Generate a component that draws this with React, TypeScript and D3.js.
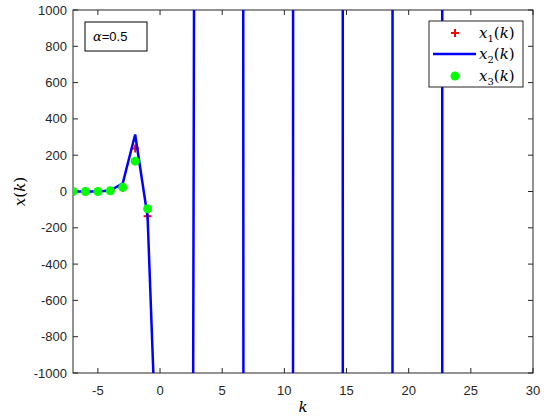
import React from "react";
import * as d3 from "d3";

// data
const kValues = [-7, -6, -5, -4, -3, -2, -1, 0, 1, 2, 3, 4, 5, 6, 7, 8, 9, 10, 11, 12, 13, 14, 15, 16, 17, 18, 19, 20, 21, 22, 23];
const x2Values = [0, 0, 0, 5, 45, 314, -140, -2000, -8000, -21000, 9000, 30000, 60000, 98000, -42000, -120000, -200000, -280000, 120000, 300000, 450000, 560000, -240000, -550000, -750000, -840000, 360000, 800000, 1000000, 1120000, -480000];
const kMarkers = [-7, -6, -5, -4, -3, -2, -1];
const x1Values = [0, 0, 0, 3, 20, 237, -136];
const x3Values = [0, 0, 0, 4, 23, 167, -95];
const xTicks = [-5, 0, 5, 10, 15, 20, 25, 30];
const yTicks = [-1000, -800, -600, -400, -200, 0, 200, 400, 600, 800, 1000];

const W = 550, H = 420;
const M = { left: 73, right: 17, top: 10, bottom: 47 };
const axisColor = "#262626";

export default function App() {
  const x = d3.scaleLinear().domain([-7, 30]).range([M.left, W - M.right]);
  const y = d3.scaleLinear().domain([-1000, 1000]).range([H - M.bottom, M.top]);
  const line = d3.line<number>().x((_, i) => x(kValues[i])).y((d) => y(d));
  const x0 = M.left, x1 = W - M.right, y0 = M.top, y1 = H - M.bottom;
  const tl = 5;
  const lgX = 429, lgY = 21, lgW = 94, lgH = 66;
  const rows = [33, 54, 76];
  const serif = "'DejaVu Serif', 'Liberation Serif', serif";
  const sans = "'Liberation Sans', Arial, sans-serif";
  const legendLabel = (sub: string, yy: number) => (
    <text x={479} y={yy + 5} fontFamily={serif} fontStyle="italic" fontSize={15} fill="#000">
      x<tspan fontSize={10} dy={4} fontStyle="normal">{sub}</tspan>
      <tspan dy={-4} fontStyle="normal">(</tspan>k<tspan fontStyle="normal">)</tspan>
    </text>
  );
  return (
    <svg width={W} height={H} style={{ position: "absolute", left: 0, top: 0, background: "#fff" }}>
      <defs>
        <clipPath id="plotclip">
          <rect x={x0} y={y0} width={x1 - x0} height={y1 - y0} />
        </clipPath>
      </defs>
      <rect x={0} y={0} width={W} height={H} fill="#fff" />
      {/* axes box */}
      <rect x={x0} y={y0} width={x1 - x0} height={y1 - y0} fill="none" stroke={axisColor} strokeWidth={1} />
      {xTicks.map((t) => (
        <g key={"xt" + t}>
          <line x1={x(t)} x2={x(t)} y1={y1} y2={y1 - tl} stroke={axisColor} />
          <line x1={x(t)} x2={x(t)} y1={y0} y2={y0 + tl} stroke={axisColor} />
          <text x={x(t)} y={y1 + 22} textAnchor="middle" fontFamily={sans} fontSize={13} fill={axisColor}>{t}</text>
        </g>
      ))}
      {yTicks.map((t) => (
        <g key={"yt" + t}>
          <line x1={x0} x2={x0 + tl} y1={y(t)} y2={y(t)} stroke={axisColor} />
          <line x1={x1} x2={x1 - tl} y1={y(t)} y2={y(t)} stroke={axisColor} />
          <text x={x0 - 6} y={y(t) + 4.5} textAnchor="end" fontFamily={sans} fontSize={13} fill={axisColor}>{t}</text>
        </g>
      ))}
      <text x={(x0 + x1) / 2} y={412} textAnchor="middle" fontFamily={serif} fontStyle="italic" fontSize={15} fill="#000">k</text>
      <text transform={`translate(25, ${(y0 + y1) / 2}) rotate(-90)`} textAnchor="middle" fontFamily={serif} fontStyle="italic" fontSize={15} fill="#000">
        x<tspan fontStyle="normal">(</tspan>k<tspan fontStyle="normal">)</tspan>
      </text>
      <g clipPath="url(#plotclip)">
        {kMarkers.map((k, i) => (
          <g key={"p" + k} stroke="#ff0000" strokeWidth={2}>
            <line x1={x(k) - 4} x2={x(k) + 4} y1={y(x1Values[i])} y2={y(x1Values[i])} />
            <line x1={x(k)} x2={x(k)} y1={y(x1Values[i]) - 4} y2={y(x1Values[i]) + 4} />
          </g>
        ))}
        <path d={line(x2Values) || ""} fill="none" stroke="#0000ff" strokeWidth={2.5} />
        {kMarkers.map((k, i) => (
          <circle key={"c" + k} cx={x(k)} cy={y(x3Values[i])} r={4.5} fill="#00ff00" />
        ))}
      </g>
      {/* alpha annotation */}
      <rect x={85} y={22} width={62} height={29} fill="#fff" stroke="#000" strokeWidth={1} />
      <text x={93} y={41} fontFamily={sans} fontSize={13} fill="#000">
        <tspan fontFamily={serif} fontStyle="italic">α</tspan>=0.5
      </text>
      {/* legend */}
      <rect x={lgX} y={lgY} width={lgW} height={lgH} fill="#fff" stroke={axisColor} strokeWidth={1} />
      <g stroke="#ff0000" strokeWidth={2}>
        <line x1={451} x2={459} y1={rows[0]} y2={rows[0]} />
        <line x1={455} x2={455} y1={rows[0] - 4} y2={rows[0] + 4} />
      </g>
      {legendLabel("1", rows[0])}
      <line x1={433} x2={476} y1={rows[1]} y2={rows[1]} stroke="#0000ff" strokeWidth={2.5} />
      {legendLabel("2", rows[1])}
      <circle cx={455} cy={rows[2]} r={4.5} fill="#00ff00" />
      {legendLabel("3", rows[2])}
    </svg>
  );
}
